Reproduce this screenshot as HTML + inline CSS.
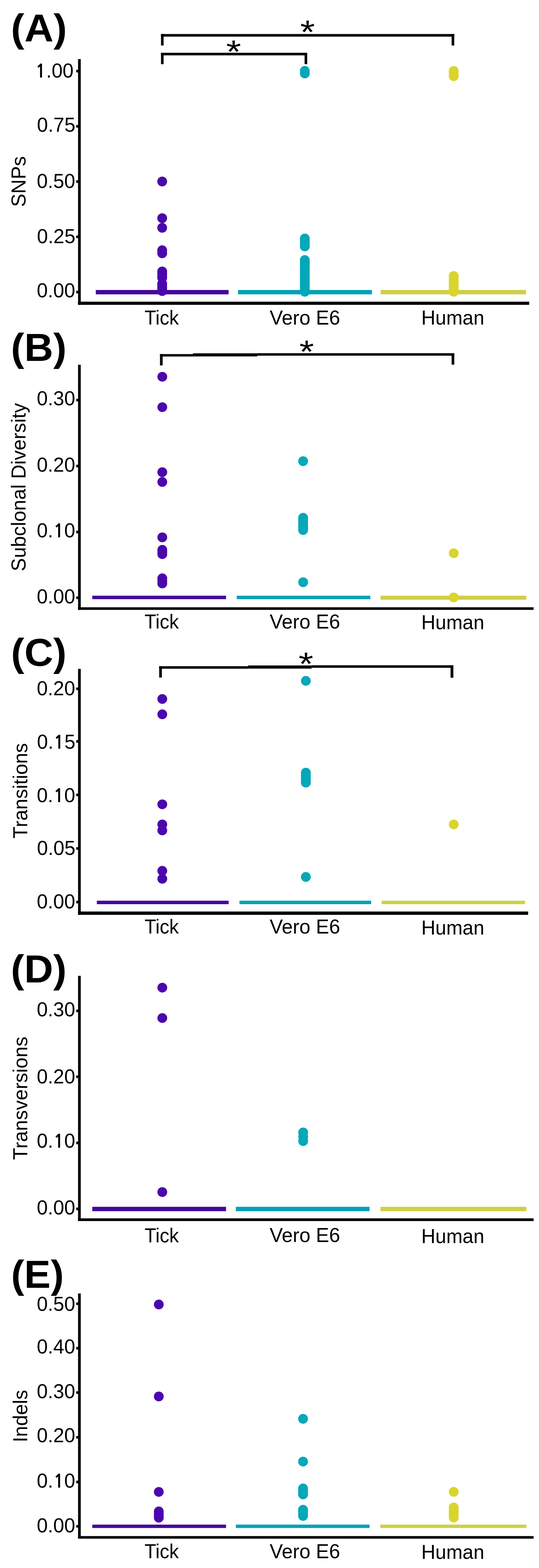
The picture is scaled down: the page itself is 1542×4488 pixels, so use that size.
<!DOCTYPE html>
<html><head><meta charset="utf-8"><title>Figure</title><style>
html,body{margin:0;padding:0;background:#fff;}
svg{display:block;}
text{font-family:"Liberation Sans",Arial,sans-serif;fill:#000;}
.one{font-family:"NanumGothic","Liberation Sans",sans-serif;font-weight:bold;}
</style></head><body>
<svg width="1542" height="4488" viewBox="0 0 1542 4488">
<rect x="0" y="0" width="1542" height="4488" fill="#fff"/>
<text transform="translate(31.22 118.69) scale(1.0406 1)" font-size="111" font-weight="bold">(A)</text>
<rect x="223.3" y="169.0" width="7.7" height="703.5" fill="#000"/>
<rect x="223.3" y="863.5" width="1290.7" height="9.0" fill="#000"/>
<rect x="218.2" y="199.8" width="5.8" height="7.5" fill="#000"/>
<text transform="translate(100.62 221.60) scale(0.9900 1)" font-size="57"><tspan x="0.00" class="one" font-size="52.38">1</tspan><tspan x="31.70">.</tspan><tspan x="47.55">0</tspan><tspan x="79.25">0</tspan></text>
<rect x="218.2" y="357.8" width="5.8" height="7.5" fill="#000"/>
<text transform="translate(105.78 377.30) scale(0.9900 1)" font-size="57">0.75</text>
<rect x="218.2" y="516.0" width="5.8" height="7.5" fill="#000"/>
<text transform="translate(105.22 537.70) scale(0.9900 1)" font-size="57">0.50</text>
<rect x="218.2" y="674.0" width="5.8" height="7.5" fill="#000"/>
<text transform="translate(105.78 696.30) scale(0.9900 1)" font-size="57">0.25</text>
<rect x="218.2" y="832.2" width="5.8" height="7.5" fill="#000"/>
<text transform="translate(105.22 851.40) scale(0.9900 1)" font-size="57">0.00</text>
<text transform="translate(72.90 592.34) rotate(-90) scale(0.9979 1)" font-size="57">SNPs</text>
<text transform="translate(413.41 929.00) scale(0.9585 1)" font-size="57">Tick</text>
<text transform="translate(771.43 929.00) scale(0.9940 1)" font-size="57">Vero E6</text>
<text transform="translate(1205.22 929.00) scale(0.9814 1)" font-size="57">Human</text>
<rect x="274.0" y="830.0" width="380.0" height="12.5" fill="#44089a"/>
<rect x="681.0" y="830.0" width="383.0" height="12.5" fill="#02a2b4"/>
<rect x="1089.0" y="830.0" width="416.0" height="12.5" fill="#cfcf48"/>
<circle cx="464.0" cy="519.5" r="14.0" fill="#4b07ac"/>
<circle cx="464.0" cy="624.5" r="14.0" fill="#4b07ac"/>
<circle cx="464.0" cy="652.0" r="14.0" fill="#4b07ac"/>
<circle cx="464.0" cy="716.3" r="14.0" fill="#4b07ac"/>
<circle cx="464.0" cy="725.0" r="14.0" fill="#4b07ac"/>
<circle cx="464.0" cy="777.0" r="14.0" fill="#4b07ac"/>
<circle cx="464.0" cy="783.0" r="14.0" fill="#4b07ac"/>
<circle cx="464.0" cy="789.0" r="14.0" fill="#4b07ac"/>
<circle cx="464.0" cy="795.0" r="14.0" fill="#4b07ac"/>
<circle cx="464.0" cy="812.0" r="14.0" fill="#4b07ac"/>
<circle cx="464.0" cy="818.0" r="14.0" fill="#4b07ac"/>
<circle cx="464.0" cy="824.0" r="14.0" fill="#4b07ac"/>
<circle cx="464.0" cy="829.0" r="14.0" fill="#4b07ac"/>
<circle cx="464.0" cy="833.0" r="14.0" fill="#4b07ac"/>
<circle cx="872.0" cy="202.8" r="14.0" fill="#04a8b8"/>
<circle cx="872.0" cy="210.4" r="14.0" fill="#04a8b8"/>
<circle cx="872.0" cy="682.6" r="14.0" fill="#04a8b8"/>
<circle cx="872.0" cy="688.3" r="14.0" fill="#04a8b8"/>
<circle cx="872.0" cy="694.0" r="14.0" fill="#04a8b8"/>
<circle cx="872.0" cy="699.6" r="14.0" fill="#04a8b8"/>
<circle cx="872.0" cy="705.3" r="14.0" fill="#04a8b8"/>
<circle cx="872.0" cy="744.3" r="14.0" fill="#04a8b8"/>
<circle cx="872.0" cy="750.4" r="14.0" fill="#04a8b8"/>
<circle cx="872.0" cy="756.4" r="14.0" fill="#04a8b8"/>
<circle cx="872.0" cy="762.5" r="14.0" fill="#04a8b8"/>
<circle cx="872.0" cy="768.5" r="14.0" fill="#04a8b8"/>
<circle cx="872.0" cy="774.6" r="14.0" fill="#04a8b8"/>
<circle cx="872.0" cy="780.7" r="14.0" fill="#04a8b8"/>
<circle cx="872.0" cy="786.7" r="14.0" fill="#04a8b8"/>
<circle cx="872.0" cy="792.8" r="14.0" fill="#04a8b8"/>
<circle cx="872.0" cy="798.8" r="14.0" fill="#04a8b8"/>
<circle cx="872.0" cy="804.9" r="14.0" fill="#04a8b8"/>
<circle cx="872.0" cy="811.0" r="14.0" fill="#04a8b8"/>
<circle cx="872.0" cy="817.0" r="14.0" fill="#04a8b8"/>
<circle cx="872.0" cy="823.1" r="14.0" fill="#04a8b8"/>
<circle cx="872.0" cy="829.1" r="14.0" fill="#04a8b8"/>
<circle cx="872.0" cy="835.2" r="14.0" fill="#04a8b8"/>
<circle cx="1298.0" cy="203.0" r="14.0" fill="#dad42c"/>
<circle cx="1298.0" cy="210.5" r="14.0" fill="#dad42c"/>
<circle cx="1298.0" cy="218.0" r="14.0" fill="#dad42c"/>
<circle cx="1298.0" cy="790.0" r="14.0" fill="#dad42c"/>
<circle cx="1298.0" cy="795.6" r="14.0" fill="#dad42c"/>
<circle cx="1298.0" cy="801.2" r="14.0" fill="#dad42c"/>
<circle cx="1298.0" cy="806.9" r="14.0" fill="#dad42c"/>
<circle cx="1298.0" cy="812.5" r="14.0" fill="#dad42c"/>
<circle cx="1298.0" cy="818.1" r="14.0" fill="#dad42c"/>
<circle cx="1298.0" cy="823.8" r="14.0" fill="#dad42c"/>
<circle cx="1298.0" cy="829.4" r="14.0" fill="#dad42c"/>
<circle cx="1298.0" cy="835.0" r="14.0" fill="#dad42c"/>
<rect x="460.6" y="97.4" width="838.9" height="7.4" fill="#000"/>
<rect x="460.6" y="97.4" width="7.4" height="32.8" fill="#000"/>
<rect x="1292.0" y="97.4" width="7.5" height="32.8" fill="#000"/>
<rect x="460.6" y="151.0" width="418.2" height="7.4" fill="#000"/>
<rect x="460.6" y="151.0" width="7.4" height="32.7" fill="#000"/>
<rect x="871.4" y="151.0" width="7.4" height="32.7" fill="#000"/>
<text transform="translate(858.83 124.06) scale(1.1515 1)" font-size="94.29">*</text>
<text transform="translate(647.01 179.77) scale(1.1743 1)" font-size="93.43">*</text>
<text transform="translate(31.26 1033.09) scale(1.0336 1)" font-size="111" font-weight="bold">(B)</text>
<rect x="223.3" y="1044.0" width="7.7" height="701.6" fill="#000"/>
<rect x="223.3" y="1738.2" width="1303.2" height="7.4" fill="#000"/>
<rect x="218.2" y="1141.5" width="5.8" height="7.5" fill="#000"/>
<text transform="translate(105.22 1160.00) scale(0.9900 1)" font-size="57">0.30</text>
<rect x="218.2" y="1330.2" width="5.8" height="7.5" fill="#000"/>
<text transform="translate(105.22 1349.70) scale(0.9900 1)" font-size="57">0.20</text>
<rect x="218.2" y="1519.0" width="5.8" height="7.5" fill="#000"/>
<text transform="translate(105.22 1538.30) scale(0.9900 1)" font-size="57"><tspan x="0.00">0</tspan><tspan x="31.70">.</tspan><tspan x="47.55" class="one" font-size="52.38">1</tspan><tspan x="79.25">0</tspan></text>
<rect x="218.2" y="1707.2" width="5.8" height="7.5" fill="#000"/>
<text transform="translate(105.22 1727.00) scale(0.9900 1)" font-size="57">0.00</text>
<text transform="translate(72.80 1635.13) rotate(-90) scale(0.9935 1)" font-size="57">Subclonal Diversity</text>
<text transform="translate(413.41 1798.80) scale(0.9585 1)" font-size="57">Tick</text>
<text transform="translate(771.43 1798.50) scale(0.9940 1)" font-size="57">Vero E6</text>
<text transform="translate(1205.22 1801.20) scale(0.9814 1)" font-size="57">Human</text>
<rect x="264.0" y="1705.0" width="382.7" height="10.0" fill="#44089a"/>
<rect x="677.2" y="1705.0" width="382.4" height="10.0" fill="#02a2b4"/>
<rect x="1088.8" y="1705.0" width="416.7" height="11.5" fill="#cfcf48"/>
<circle cx="464.3" cy="1078.4" r="14.0" fill="#4b07ac"/>
<circle cx="464.3" cy="1165.4" r="14.0" fill="#4b07ac"/>
<circle cx="464.3" cy="1351.5" r="14.0" fill="#4b07ac"/>
<circle cx="464.3" cy="1379.6" r="14.0" fill="#4b07ac"/>
<circle cx="464.3" cy="1538.0" r="14.0" fill="#4b07ac"/>
<circle cx="464.3" cy="1573.8" r="14.0" fill="#4b07ac"/>
<circle cx="464.3" cy="1580.0" r="14.0" fill="#4b07ac"/>
<circle cx="464.3" cy="1586.2" r="14.0" fill="#4b07ac"/>
<circle cx="464.3" cy="1655.3" r="14.0" fill="#4b07ac"/>
<circle cx="464.3" cy="1662.7" r="14.0" fill="#4b07ac"/>
<circle cx="464.3" cy="1670.0" r="14.0" fill="#4b07ac"/>
<circle cx="867.2" cy="1320.0" r="14.0" fill="#04a8b8"/>
<circle cx="867.2" cy="1482.0" r="14.0" fill="#04a8b8"/>
<circle cx="867.2" cy="1487.8" r="14.0" fill="#04a8b8"/>
<circle cx="867.2" cy="1493.7" r="14.0" fill="#04a8b8"/>
<circle cx="867.2" cy="1499.5" r="14.0" fill="#04a8b8"/>
<circle cx="867.2" cy="1505.3" r="14.0" fill="#04a8b8"/>
<circle cx="867.2" cy="1511.2" r="14.0" fill="#04a8b8"/>
<circle cx="867.2" cy="1517.0" r="14.0" fill="#04a8b8"/>
<circle cx="867.2" cy="1666.5" r="14.0" fill="#04a8b8"/>
<circle cx="1298.0" cy="1583.4" r="14.0" fill="#dad42c"/>
<circle cx="1298.0" cy="1710.0" r="14.0" fill="#dad42c"/>
<rect x="457.7" y="1013.5" width="94.3" height="6.9" fill="#000"/>
<rect x="552.0" y="1011.3" width="184.0" height="8.9" fill="#000"/>
<rect x="736.0" y="1011.0" width="563.6" height="7.0" fill="#000"/>
<rect x="457.7" y="1013.5" width="7.6" height="32.5" fill="#000"/>
<rect x="1292.0" y="1011.0" width="7.6" height="32.7" fill="#000"/>
<text transform="translate(856.34 1038.09) scale(1.1812 1)" font-size="91.43">*</text>
<text transform="translate(31.59 1905.79) scale(1.0294 1)" font-size="111" font-weight="bold">(C)</text>
<rect x="223.3" y="1914.5" width="7.7" height="704.0" fill="#000"/>
<rect x="223.3" y="2609.0" width="1287.7" height="9.5" fill="#000"/>
<rect x="218.2" y="1967.8" width="5.8" height="7.5" fill="#000"/>
<text transform="translate(105.22 1989.80) scale(0.9900 1)" font-size="57">0.20</text>
<rect x="218.2" y="2118.3" width="5.8" height="7.5" fill="#000"/>
<text transform="translate(105.78 2142.70) scale(0.9900 1)" font-size="57"><tspan x="0.00">0</tspan><tspan x="31.70">.</tspan><tspan x="47.55" class="one" font-size="52.38">1</tspan><tspan x="79.25">5</tspan></text>
<rect x="218.2" y="2271.4" width="5.8" height="7.5" fill="#000"/>
<text transform="translate(105.22 2295.50) scale(0.9900 1)" font-size="57"><tspan x="0.00">0</tspan><tspan x="31.70">.</tspan><tspan x="47.55" class="one" font-size="52.38">1</tspan><tspan x="79.25">0</tspan></text>
<rect x="218.2" y="2424.8" width="5.8" height="7.5" fill="#000"/>
<text transform="translate(105.78 2446.50) scale(0.9900 1)" font-size="57">0.05</text>
<rect x="218.2" y="2578.2" width="5.8" height="7.5" fill="#000"/>
<text transform="translate(105.22 2599.90) scale(0.9900 1)" font-size="57">0.00</text>
<text transform="translate(77.80 2399.93) rotate(-90) scale(0.9876 1)" font-size="57">Transitions</text>
<text transform="translate(413.41 2672.30) scale(0.9585 1)" font-size="57">Tick</text>
<text transform="translate(771.43 2672.00) scale(0.9940 1)" font-size="57">Vero E6</text>
<text transform="translate(1205.22 2674.80) scale(0.9814 1)" font-size="57">Human</text>
<rect x="277.0" y="2578.0" width="377.1" height="10.0" fill="#44089a"/>
<rect x="685.1" y="2578.0" width="376.8" height="10.0" fill="#02a2b4"/>
<rect x="1092.0" y="2578.0" width="410.0" height="10.0" fill="#cfcf48"/>
<circle cx="464.3" cy="2000.7" r="14.0" fill="#4b07ac"/>
<circle cx="464.3" cy="2044.6" r="14.0" fill="#4b07ac"/>
<circle cx="464.3" cy="2302.2" r="14.0" fill="#4b07ac"/>
<circle cx="464.3" cy="2359.7" r="14.0" fill="#4b07ac"/>
<circle cx="464.3" cy="2376.8" r="14.0" fill="#4b07ac"/>
<circle cx="464.3" cy="2492.6" r="14.0" fill="#4b07ac"/>
<circle cx="464.3" cy="2515.3" r="14.0" fill="#4b07ac"/>
<circle cx="875.0" cy="1948.8" r="14.0" fill="#04a8b8"/>
<circle cx="875.0" cy="2211.4" r="14.0" fill="#04a8b8"/>
<circle cx="875.0" cy="2217.2" r="14.0" fill="#04a8b8"/>
<circle cx="875.0" cy="2222.9" r="14.0" fill="#04a8b8"/>
<circle cx="875.0" cy="2228.7" r="14.0" fill="#04a8b8"/>
<circle cx="875.0" cy="2234.4" r="14.0" fill="#04a8b8"/>
<circle cx="875.0" cy="2240.2" r="14.0" fill="#04a8b8"/>
<circle cx="875.0" cy="2510.0" r="14.0" fill="#04a8b8"/>
<circle cx="1298.0" cy="2359.7" r="14.0" fill="#dad42c"/>
<rect x="455.4" y="1906.8" width="254.4" height="7.2" fill="#000"/>
<rect x="709.8" y="1904.7" width="181.7" height="9.0" fill="#000"/>
<rect x="891.5" y="1904.2" width="405.5" height="7.2" fill="#000"/>
<rect x="455.4" y="1906.8" width="7.7" height="32.5" fill="#000"/>
<rect x="1289.0" y="1904.2" width="8.0" height="35.6" fill="#000"/>
<text transform="translate(854.13 1932.37) scale(1.1626 1)" font-size="93.14">*</text>
<text transform="translate(31.06 2812.29) scale(1.0343 1)" font-size="111" font-weight="bold">(D)</text>
<rect x="223.3" y="2793.0" width="7.7" height="702.0" fill="#000"/>
<rect x="223.3" y="3487.2" width="1303.2" height="7.8" fill="#000"/>
<rect x="218.2" y="2889.6" width="5.8" height="7.5" fill="#000"/>
<text transform="translate(105.22 2909.20) scale(0.9900 1)" font-size="57">0.30</text>
<rect x="218.2" y="3078.2" width="5.8" height="7.5" fill="#000"/>
<text transform="translate(105.22 3100.80) scale(0.9900 1)" font-size="57">0.20</text>
<rect x="218.2" y="3267.6" width="5.8" height="7.5" fill="#000"/>
<text transform="translate(105.22 3285.00) scale(0.9900 1)" font-size="57"><tspan x="0.00">0</tspan><tspan x="31.70">.</tspan><tspan x="47.55" class="one" font-size="52.38">1</tspan><tspan x="79.25">0</tspan></text>
<rect x="218.2" y="3456.4" width="5.8" height="7.5" fill="#000"/>
<text transform="translate(105.22 3476.30) scale(0.9900 1)" font-size="57">0.00</text>
<text transform="translate(77.80 3319.93) rotate(-90) scale(0.9920 1)" font-size="57">Transversions</text>
<text transform="translate(413.41 3555.60) scale(0.9585 1)" font-size="57">Tick</text>
<text transform="translate(771.43 3555.30) scale(0.9940 1)" font-size="57">Vero E6</text>
<text transform="translate(1205.22 3558.20) scale(0.9814 1)" font-size="57">Human</text>
<rect x="264.0" y="3454.2" width="382.7" height="12.5" fill="#44089a"/>
<rect x="674.7" y="3454.2" width="382.5" height="12.5" fill="#02a2b4"/>
<rect x="1088.4" y="3454.2" width="417.4" height="12.5" fill="#cfcf48"/>
<circle cx="464.3" cy="2826.9" r="14.0" fill="#4b07ac"/>
<circle cx="464.3" cy="2913.9" r="14.0" fill="#4b07ac"/>
<circle cx="464.3" cy="3412.0" r="14.0" fill="#4b07ac"/>
<circle cx="867.3" cy="3241.2" r="14.0" fill="#04a8b8"/>
<circle cx="867.3" cy="3253.6" r="14.0" fill="#04a8b8"/>
<circle cx="867.3" cy="3266.0" r="14.0" fill="#04a8b8"/>
<text transform="translate(31.64 3685.79) scale(1.0203 1)" font-size="111" font-weight="bold">(E)</text>
<rect x="223.3" y="3702.3" width="7.7" height="701.7" fill="#000"/>
<rect x="223.3" y="4396.6" width="1303.2" height="7.4" fill="#000"/>
<rect x="218.2" y="3727.8" width="5.8" height="7.5" fill="#000"/>
<text transform="translate(105.22 3751.60) scale(0.9900 1)" font-size="57">0.50</text>
<rect x="218.2" y="3855.2" width="5.8" height="7.5" fill="#000"/>
<text transform="translate(105.22 3874.20) scale(0.9900 1)" font-size="57">0.40</text>
<rect x="218.2" y="3982.2" width="5.8" height="7.5" fill="#000"/>
<text transform="translate(105.22 4002.40) scale(0.9900 1)" font-size="57">0.30</text>
<rect x="218.2" y="4110.2" width="5.8" height="7.5" fill="#000"/>
<text transform="translate(105.22 4127.70) scale(0.9900 1)" font-size="57">0.20</text>
<rect x="218.2" y="4238.1" width="5.8" height="7.5" fill="#000"/>
<text transform="translate(105.22 4257.90) scale(0.9900 1)" font-size="57"><tspan x="0.00">0</tspan><tspan x="31.70">.</tspan><tspan x="47.55" class="one" font-size="52.38">1</tspan><tspan x="79.25">0</tspan></text>
<rect x="218.2" y="4364.9" width="5.8" height="7.5" fill="#000"/>
<text transform="translate(105.22 4385.60) scale(0.9900 1)" font-size="57">0.00</text>
<text transform="translate(77.90 4128.26) rotate(-90) scale(0.9870 1)" font-size="57">Indels</text>
<text transform="translate(413.41 4460.20) scale(0.9585 1)" font-size="57">Tick</text>
<text transform="translate(771.43 4459.50) scale(0.9940 1)" font-size="57">Vero E6</text>
<text transform="translate(1205.22 4462.30) scale(0.9814 1)" font-size="57">Human</text>
<rect x="264.0" y="4363.8" width="382.7" height="9.7" fill="#44089a"/>
<rect x="674.7" y="4363.8" width="382.5" height="9.7" fill="#02a2b4"/>
<rect x="1088.0" y="4363.8" width="417.8" height="9.7" fill="#cfcf48"/>
<circle cx="454.3" cy="3733.8" r="14.0" fill="#4b07ac"/>
<circle cx="454.3" cy="3997.0" r="14.0" fill="#4b07ac"/>
<circle cx="454.3" cy="4270.2" r="14.0" fill="#4b07ac"/>
<circle cx="454.3" cy="4326.1" r="14.0" fill="#4b07ac"/>
<circle cx="454.3" cy="4332.1" r="14.0" fill="#4b07ac"/>
<circle cx="454.3" cy="4338.0" r="14.0" fill="#4b07ac"/>
<circle cx="454.3" cy="4344.0" r="14.0" fill="#4b07ac"/>
<circle cx="867.0" cy="4061.0" r="14.0" fill="#04a8b8"/>
<circle cx="867.0" cy="4183.4" r="14.0" fill="#04a8b8"/>
<circle cx="867.0" cy="4260.3" r="14.0" fill="#04a8b8"/>
<circle cx="867.0" cy="4266.0" r="14.0" fill="#04a8b8"/>
<circle cx="867.0" cy="4271.7" r="14.0" fill="#04a8b8"/>
<circle cx="867.0" cy="4277.4" r="14.0" fill="#04a8b8"/>
<circle cx="867.0" cy="4321.2" r="14.0" fill="#04a8b8"/>
<circle cx="867.0" cy="4327.1" r="14.0" fill="#04a8b8"/>
<circle cx="867.0" cy="4333.1" r="14.0" fill="#04a8b8"/>
<circle cx="867.0" cy="4339.0" r="14.0" fill="#04a8b8"/>
<circle cx="1298.0" cy="4270.0" r="14.0" fill="#dad42c"/>
<circle cx="1298.0" cy="4314.7" r="14.0" fill="#dad42c"/>
<circle cx="1298.0" cy="4320.5" r="14.0" fill="#dad42c"/>
<circle cx="1298.0" cy="4326.3" r="14.0" fill="#dad42c"/>
<circle cx="1298.0" cy="4332.1" r="14.0" fill="#dad42c"/>
<circle cx="1298.0" cy="4337.9" r="14.0" fill="#dad42c"/>
<circle cx="1298.0" cy="4343.7" r="14.0" fill="#dad42c"/>
</svg>
</body></html>
